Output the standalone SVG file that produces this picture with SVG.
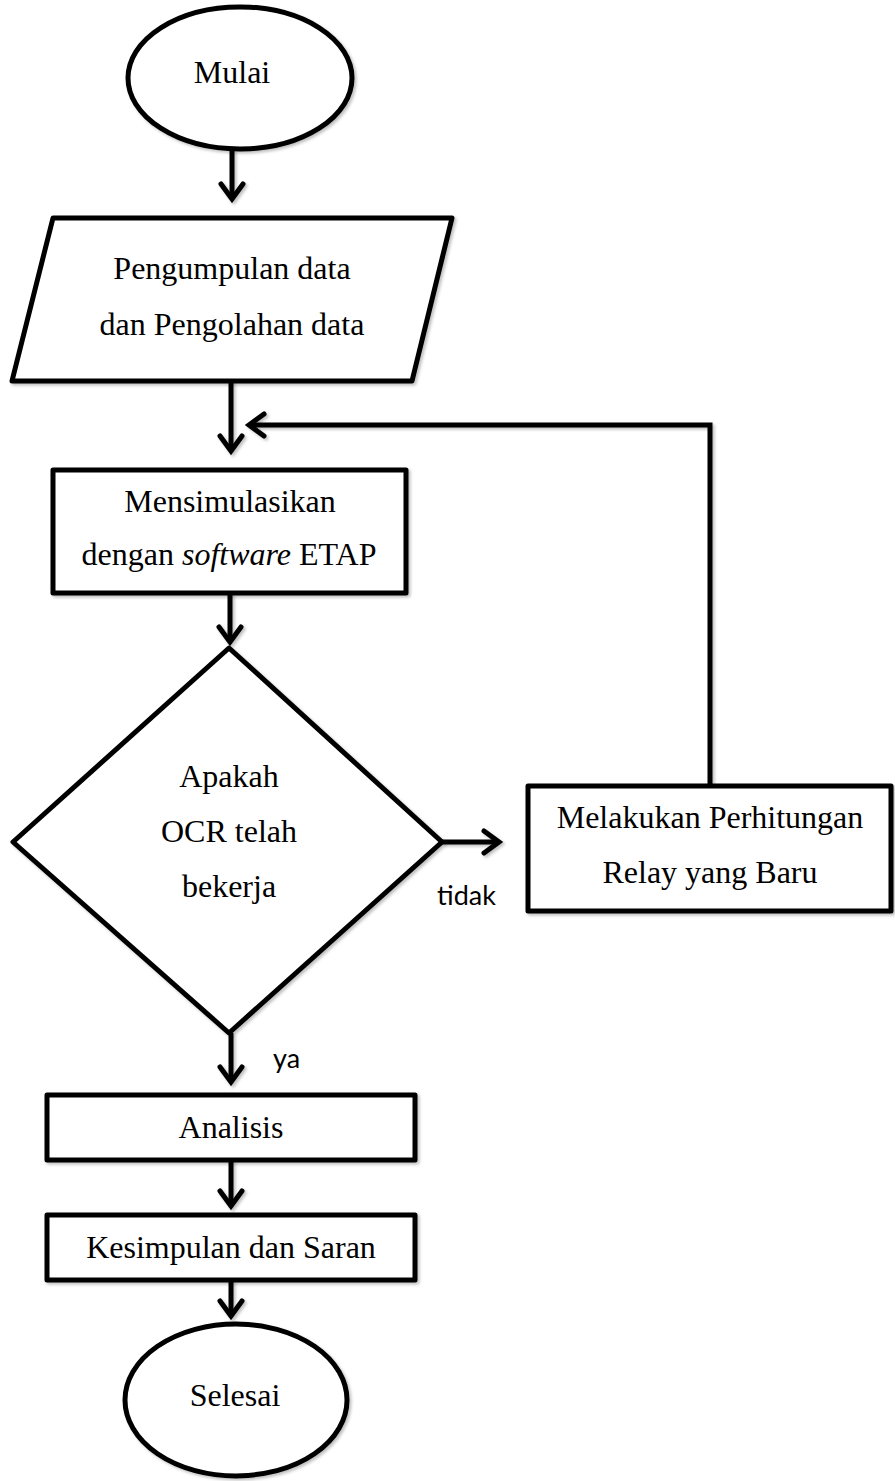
<svg xmlns="http://www.w3.org/2000/svg" width="895" height="1481" viewBox="0 0 895 1481">
<style>
.shape{fill:#fff;stroke:#000;stroke-width:5;stroke-linejoin:round;filter:url(#sh)}
.t{font-family:"Liberation Serif","Times New Roman",serif;font-size:32px;fill:#000;text-anchor:middle}
.lbl{font-family:Lato,"Liberation Sans",sans-serif;font-size:27px;fill:#000}
.c{fill:none;stroke:#000;stroke-width:5;filter:url(#sh)}
</style>
<defs>
<filter id="sh" filterUnits="userSpaceOnUse" x="0" y="0" width="895" height="1481">
<feDropShadow dx="2" dy="2" stdDeviation="1.5" flood-color="#000" flood-opacity="0.25"/>
</filter>
<marker id="ah" markerUnits="userSpaceOnUse" markerWidth="30" markerHeight="30" viewBox="-20 -15 24 30" refX="0" refY="0" orient="auto">
<path d="M-15,-11 L0,0 L-15,11" fill="none" stroke="#000" stroke-width="5" stroke-linecap="round" stroke-linejoin="miter"/>
</marker>
</defs>
<g id="connectors">
<line class="c" x1="232" y1="149" x2="232" y2="199" marker-end="url(#ah)"/>
<line class="c" x1="231" y1="381" x2="231" y2="451" marker-end="url(#ah)"/>
<path class="c" d="M710,786 V425 H249" marker-end="url(#ah)"/>
<line class="c" x1="230" y1="593" x2="230" y2="642" marker-end="url(#ah)"/>
<line class="c" x1="442" y1="842" x2="499" y2="842" marker-end="url(#ah)"/>
<line class="c" x1="231" y1="1033" x2="231" y2="1082" marker-end="url(#ah)"/>
<line class="c" x1="231" y1="1160" x2="231" y2="1206" marker-end="url(#ah)"/>
<line class="c" x1="231" y1="1280" x2="231" y2="1316" marker-end="url(#ah)"/>
<text class="lbl" x="437" y="905">tidak</text>
<text class="lbl" x="273" y="1068">ya</text>
</g>
<g id="mulai">
<ellipse class="shape" cx="240" cy="78" rx="112" ry="71"/>
<text class="t" x="232" y="83">Mulai</text>
</g>
<g id="pengumpulan">
<polygon class="shape" points="53,218 452,218 412,381 12,381"/>
<text class="t" x="232" y="279">Pengumpulan data</text>
<text class="t" x="232" y="335">dan Pengolahan data</text>
</g>
<g id="simulasi">
<rect class="shape" x="53" y="470" width="353" height="123"/>
<text class="t" x="230" y="512">Mensimulasikan</text>
<text class="t" x="229" y="565">dengan <tspan font-style="italic">software</tspan> ETAP</text>
</g>
<g id="keputusan">
<polygon class="shape" points="229,648 442,842 229,1033 13,842"/>
<text class="t" x="229" y="787">Apakah</text>
<text class="t" x="229" y="842">OCR telah</text>
<text class="t" x="229" y="897">bekerja</text>
</g>
<g id="perhitungan">
<rect class="shape" x="528" y="786" width="363" height="125"/>
<text class="t" x="710" y="828">Melakukan Perhitungan</text>
<text class="t" x="710" y="883">Relay yang Baru</text>
</g>
<g id="analisis">
<rect class="shape" x="47" y="1095" width="368" height="65"/>
<text class="t" x="231" y="1138">Analisis</text>
</g>
<g id="kesimpulan">
<rect class="shape" x="47" y="1215" width="368" height="65"/>
<text class="t" x="231" y="1258">Kesimpulan dan Saran</text>
</g>
<g id="selesai">
<ellipse class="shape" cx="236" cy="1400" rx="111" ry="76"/>
<text class="t" x="235" y="1406">Selesai</text>
</g>
</svg>
